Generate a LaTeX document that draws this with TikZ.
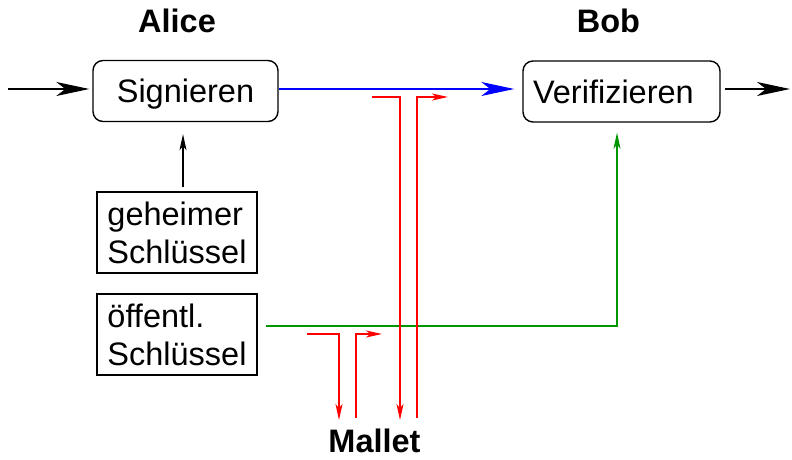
\documentclass[tikz,border=0pt]{standalone}
\usepackage{fontspec}
\setmainfont{Liberation Sans}
\usetikzlibrary{arrows.meta}
\definecolor{keygreen}{RGB}{0,150,0}
\begin{document}
\begin{tikzpicture}[x=1pt,y=-1pt,
  every node/.style={font=\fontsize{32.5pt}{38pt}\selectfont},
  procbox/.style={draw, line width=1.4pt, rounded corners=10pt, minimum height=61pt, text depth=0pt},
  keybox/.style={draw, line width=1.3pt, minimum width=160pt, minimum height=81pt, align=left},
  party/.style={anchor=base, inner sep=0pt, font=\fontsize{32.5pt}{38pt}\selectfont\bfseries},
  bigtip/.style={-{Stealth[length=33pt,width=14pt,inset=9pt]}, line width=1.3pt},
  smalltip/.style={-{Stealth[length=16pt,width=7pt,inset=4pt]}, line width=1.2pt},
  attack/.style={smalltip, red}
]
\useasboundingbox (0,0) rectangle (792,460);

% parties
\node[party] (alice) at (177,33) {Alice};
\node[party] (bob) at (608.5,33) {Bob};
\node[party] (mallet) at (374.5,452) {Mallet};

% processing steps
\node[procbox, minimum width=185pt] (sig) at (185.5,91) {Signieren};
\node[procbox, text width=177pt, inner xsep=10pt, align=left] (ver) at (621.5,91.5) {Verifizieren};

% keys
\node[keybox] (sk) at (177,232.5) {geheimer\\Schlüssel};
\node[keybox] (pk) at (177,334.5) {öffentl.\\Schlüssel};

% message flow
\coordinate (in) at (8,89);
\coordinate (out) at (790,89);
\draw[bigtip, shorten >=3pt] (in) -- (sig.west |- in);
\draw[bigtip, blue, shorten >=8pt] (sig.east |- in) -- (ver.west |- in);
\draw[bigtip, shorten <=4pt] (ver.east |- out) -- (out);

% secret key into signing
\draw[smalltip, shorten <=4pt, shorten >=12pt]
  ([xshift=6pt]sk.north) -- ([xshift=6pt]sk.north |- sig.south);

% public key into verification
\draw[smalltip, keygreen, shorten <=8pt, shorten >=10pt]
  ([yshift=8.5pt]pk.east) -| ([xshift=-4.5pt]ver.south);

% Mallet's access to the channels
\coordinate (a1) at (372,97);
\coordinate (a2) at (400,420);
\coordinate (a3) at (417,418);
\coordinate (a4) at (448,97);
\coordinate (b1) at (307,334);
\coordinate (b2) at (339,420);
\coordinate (b3) at (356,418);
\coordinate (b4) at (382,334);
\draw[attack] (a1) -| (a2);
\draw[attack] (a3) |- (a4);
\draw[attack] (b1) -| (b2);
\draw[attack] (b3) |- (b4);
\end{tikzpicture}
\end{document}
